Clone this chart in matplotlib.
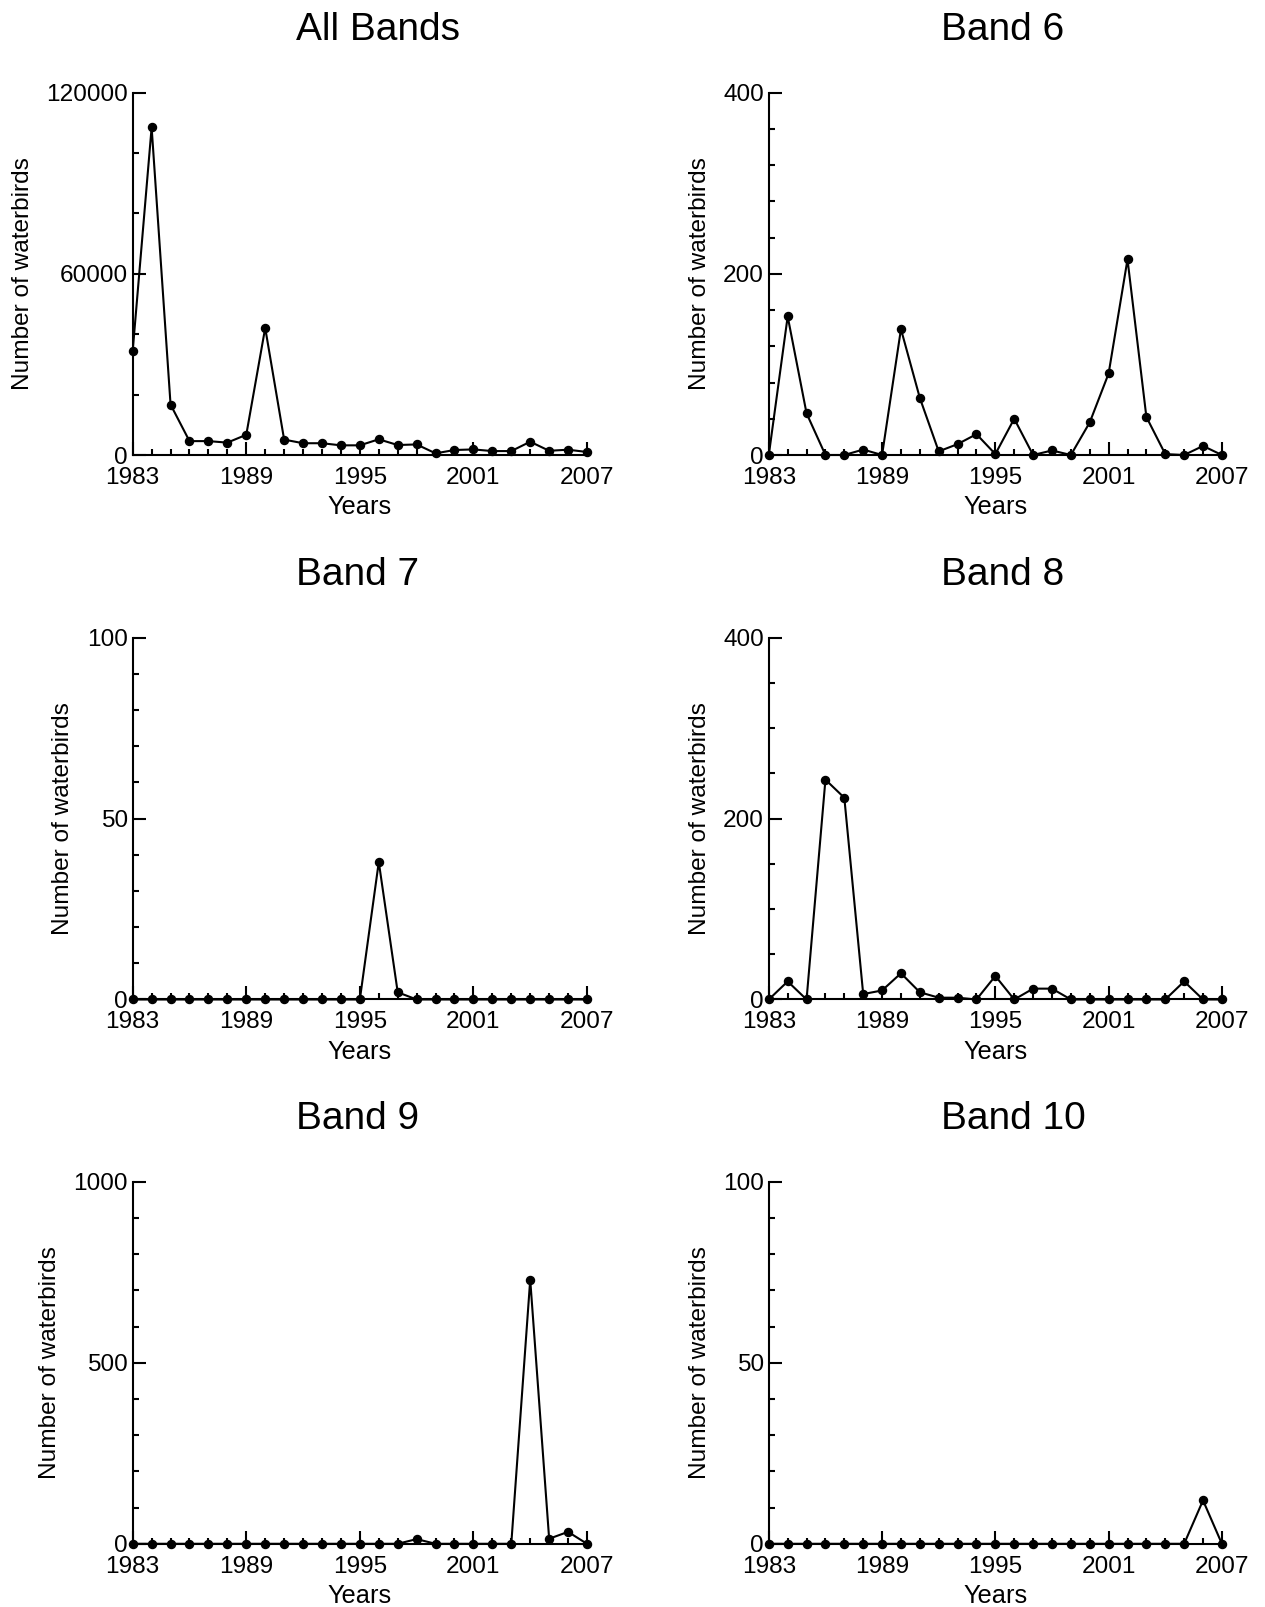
import matplotlib
matplotlib.use("Agg")
import matplotlib.pyplot as plt
from matplotlib.ticker import MultipleLocator

plt.rcParams['font.family'] = ['Liberation Sans', 'DejaVu Sans']

years = list(range(1983, 2008))

all_bands = [34500, 108500, 16700, 4600, 4600, 4100, 6700, 42100, 5100, 3900,
             3900, 3200, 3200, 5200, 3300, 3500, 550, 1650, 1850, 1300,
             1300, 4400, 1400, 1750, 1000]
band6 = [0, 153, 46, 0, 0, 6, 0, 139, 63, 4, 12, 23, 1, 40, 0, 5, 0, 36, 90,
         216, 42, 1, 0, 10, 0]
band7 = [0, 0, 0, 0, 0, 0, 0, 0, 0, 0, 0, 0, 0, 38, 2, 0, 0, 0, 0, 0, 0, 0,
         0, 0, 0]
band8 = [0, 20, 0, 243, 223, 6, 10, 29, 8, 2, 2, 0, 26, 0, 12, 12, 0, 0, 0,
         0, 0, 0, 20, 0, 0]
band9 = [0, 0, 0, 0, 0, 0, 0, 0, 0, 0, 0, 0, 0, 0, 0, 13, 0, 0, 0, 0, 0,
         730, 14, 33, 0]
band10 = [0, 0, 0, 0, 0, 0, 0, 0, 0, 0, 0, 0, 0, 0, 0, 0, 0, 0, 0, 0, 0, 0,
          0, 12, 0]

titles = ["All Bands", "Band 6", "Band 7", "Band 8", "Band 9", "Band 10"]
series = [all_bands, band6, band7, band8, band9, band10]
ymax = [120000, 400, 100, 400, 1000, 100]
ymajor = [60000, 200, 50, 200, 500, 50]
yminor = [20000, 40, 10, 50, 100, 10]
xticks = [1983, 1989, 1995, 2001, 2007]

W, H = 1265, 1607
fig = plt.figure(figsize=(W / 100, H / 100), dpi=100)

lefts = [132.7, 768.8]
rights = [587.0, 1221.9]
tops = [92.7, 637.6, 1181.9]
bottoms = [455.0, 999.5, 1543.8]
title_x = [0.539, 0.515, 0.494, 0.515, 0.494, 0.539]

for i in range(6):
    r, c = divmod(i, 2)
    l, rr = lefts[c], rights[c]
    t, b = tops[r], bottoms[r]
    ax = fig.add_axes([l / W, 1 - b / H, (rr - l) / W, (b - t) / H])
    ax.plot(years, series[i], color='black', lw=1.5, marker='o', ms=5.8,
            clip_on=False, zorder=3)
    ax.set_xlim(1983, 2007)
    ax.set_ylim(0, ymax[i])
    ax.set_xticks(xticks)
    ax.xaxis.set_minor_locator(MultipleLocator(1))
    ax.yaxis.set_major_locator(MultipleLocator(ymajor[i]))
    ax.yaxis.set_minor_locator(MultipleLocator(yminor[i]))
    for s in ['top', 'right']:
        ax.spines[s].set_visible(False)
    for s in ['left', 'bottom']:
        ax.spines[s].set_linewidth(1.5)
    ax.tick_params(axis='both', which='major', direction='in', length=9.5,
                   width=1.5, labelsize=17.6)
    ax.tick_params(axis='both', which='minor', direction='in', length=4.5,
                   width=1.5)
    ax.tick_params(axis='x', which='major', pad=8.5)
    ax.tick_params(axis='y', which='major', pad=3.5)
    ax.set_xlabel("Years", fontsize=18.3, labelpad=4.5)
    ax.set_ylabel("Number of waterbirds", fontsize=17.6, labelpad=9)
    ax.set_title(titles[i], fontsize=28, pad=38, x=title_x[i])

fig.savefig("out.png", dpi=100)
